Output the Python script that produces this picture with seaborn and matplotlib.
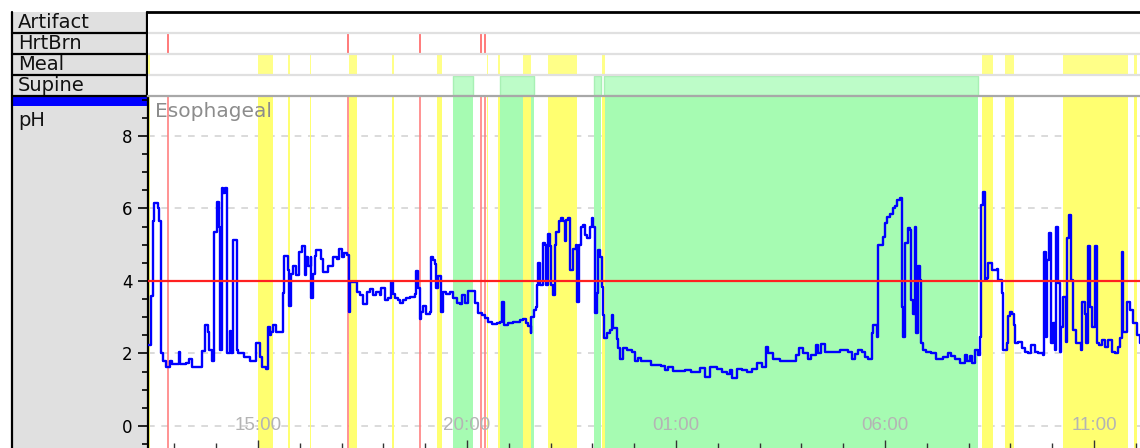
import numpy as np
import pandas as pd
import matplotlib.pyplot as plt
import matplotlib.ticker as mticker
from matplotlib.patches import Rectangle
import seaborn as sns

# registro de pH esofagico, hora del dia (>24 = dia siguiente)
hora = [12.37, 12.45, 12.49, 12.52, 12.60, 12.64, 12.68, 12.72, 12.80, 12.89,
        12.94, 13.10, 13.13, 13.28, 13.35, 13.42, 13.67, 13.74, 13.80, 13.84,
        13.89, 13.96, 14.03, 14.08, 14.10, 14.13, 14.16, 14.22, 14.27, 14.32,
        14.35, 14.40, 14.49, 14.52, 14.67, 14.81, 14.96, 15.05, 15.10, 15.19,
        15.24, 15.29, 15.32, 15.37, 15.44, 15.59, 15.62, 15.72, 15.75, 15.79,
        15.85, 15.92, 15.98, 16.06, 16.12, 16.16, 16.20, 16.26, 16.28, 16.32,
        16.36, 16.40, 16.52, 16.56, 16.67, 16.79, 16.88, 16.94, 17.00, 17.05,
        17.12, 17.18, 17.21, 17.36, 17.44, 17.51, 17.60, 17.68, 17.75, 17.83,
        17.92, 17.95, 18.04, 18.11, 18.19, 18.23, 18.28, 18.35, 18.40, 18.47,
        18.55, 18.64, 18.76, 18.79, 18.83, 18.88, 18.91, 18.95, 19.03, 19.11,
        19.15, 19.19, 19.23, 19.27, 19.31, 19.39, 19.43, 19.51, 19.59, 19.67,
        19.75, 19.83, 19.87, 19.95, 20.02, 20.13, 20.19, 20.26, 20.35, 20.43,
        20.50, 20.59, 20.71, 20.79, 20.85, 20.89, 20.98, 21.10, 21.18, 21.27,
        21.34, 21.42, 21.46, 21.52, 21.54, 21.60, 21.65, 21.67, 21.70, 21.75,
        21.81, 21.87, 21.90, 21.94, 21.99, 22.02, 22.06, 22.11, 22.14, 22.20,
        22.24, 22.30, 22.34, 22.38, 22.42, 22.46, 22.54, 22.61, 22.63, 22.68,
        22.73, 22.78, 22.82, 22.87, 22.94, 22.98, 23.01, 23.06, 23.10, 23.13,
        23.18, 23.22, 23.25, 23.28, 23.34, 23.42, 23.46, 23.50, 23.58, 23.62,
        23.67, 23.73, 23.82, 23.94, 24.02, 24.09, 24.17, 24.29, 24.41, 24.53,
        24.65, 24.74, 24.82, 24.93, 25.22, 25.37, 25.57, 25.69, 25.81, 25.97,
        26.09, 26.21, 26.29, 26.35, 26.45, 26.57, 26.69, 26.81, 26.93, 27.05,
        27.15, 27.20, 27.32, 27.49, 27.64, 27.88, 27.94, 28.04, 28.16, 28.24,
        28.35, 28.40, 28.48, 28.56, 28.72, 28.92, 29.11, 29.20, 29.28, 29.35,
        29.44, 29.52, 29.59, 29.69, 29.72, 29.80, 29.84, 29.95, 30.00, 30.04,
        30.12, 30.18, 30.24, 30.29, 30.35, 30.41, 30.44, 30.49, 30.55, 30.61,
        30.63, 30.67, 30.71, 30.75, 30.79, 30.84, 30.86, 30.91, 30.99, 31.11,
        31.23, 31.39, 31.51, 31.59, 31.67, 31.79, 31.91, 31.95, 32.03, 32.07,
        32.15, 32.22, 32.27, 32.30, 32.34, 32.39, 32.43, 32.46, 32.55, 32.67,
        32.70, 32.79, 32.82, 32.91, 32.94, 32.99, 33.05, 33.09, 33.11, 33.18,
        33.27, 33.35, 33.42, 33.50, 33.59, 33.66, 33.77, 33.80, 33.85, 33.88,
        33.92, 33.96, 34.01, 34.07, 34.09, 34.14, 34.19, 34.22, 34.27, 34.33,
        34.35, 34.41, 34.46, 34.50, 34.58, 34.68, 34.72, 34.78, 34.82, 34.86,
        34.90, 34.96, 35.02, 35.06, 35.12, 35.18, 35.26, 35.33, 35.42, 35.50,
        35.57, 35.62, 35.66, 35.69, 35.78, 35.86, 35.93, 36.02, 36.10]
ph = [2.23, 3.59, 5.64, 6.15, 6.00, 5.64, 2.00, 1.78, 1.64, 1.80,
      1.72, 2.05, 1.72, 1.75, 1.85, 1.64, 2.08, 2.79, 2.60, 2.10,
      1.78, 5.36, 6.19, 5.50, 2.10, 6.56, 6.43, 6.56, 2.00, 2.62,
      2.00, 5.13, 2.10, 2.00, 1.90, 1.80, 2.28, 1.90, 1.64, 1.58,
      2.74, 2.50, 2.60, 2.79, 2.60, 3.66, 4.69, 4.30, 3.32, 4.20,
      4.41, 4.15, 4.81, 4.97, 4.15, 4.67, 4.41, 4.67, 3.52, 4.20,
      4.70, 4.86, 4.60, 4.26, 4.40, 4.66, 4.60, 4.87, 4.66, 4.76,
      4.72, 3.15, 3.98, 3.70, 3.61, 3.36, 3.70, 3.77, 3.61, 3.70,
      3.61, 3.80, 3.47, 3.52, 3.98, 3.65, 3.52, 3.47, 3.40, 3.47,
      3.52, 3.56, 3.65, 4.27, 3.80, 2.94, 3.15, 3.32, 3.08, 3.15,
      4.67, 4.57, 4.47, 3.80, 4.13, 3.15, 3.70, 3.65, 3.70, 3.52,
      3.40, 3.36, 3.61, 3.40, 3.73, 3.73, 3.40, 3.11, 3.06, 2.97,
      2.88, 2.82, 2.85, 2.88, 3.43, 2.79, 2.85, 2.86, 2.88, 2.91,
      2.94, 2.84, 2.76, 2.57, 3.00, 3.20, 3.29, 3.89, 4.49, 3.89,
      5.04, 5.00, 3.89, 5.30, 4.96, 3.89, 3.61, 5.00, 5.36, 5.64,
      5.73, 5.64, 5.09, 5.68, 5.73, 4.30, 4.89, 4.99, 3.43, 4.99,
      5.50, 5.55, 5.27, 5.18, 5.50, 5.73, 5.50, 3.11, 3.66, 4.86,
      4.67, 3.84, 3.06, 2.42, 2.56, 2.65, 3.06, 2.70, 2.40, 2.14,
      1.85, 2.16, 2.10, 2.05, 1.80, 1.88, 1.80, 1.78, 1.68, 1.68,
      1.65, 1.54, 1.62, 1.53, 1.55, 1.50, 1.60, 1.36, 1.62, 1.58,
      1.50, 1.42, 1.55, 1.32, 1.58, 1.55, 1.50, 1.56, 1.73, 1.62,
      2.19, 2.00, 1.85, 1.80, 1.78, 1.95, 2.14, 2.00, 1.85, 1.95,
      2.23, 2.00, 2.25, 2.03, 2.05, 2.10, 2.05, 1.85, 1.98, 2.10,
      2.05, 1.90, 1.85, 2.56, 2.79, 2.46, 4.99, 5.22, 5.59, 5.77,
      5.85, 6.00, 6.08, 6.23, 6.28, 3.29, 2.46, 5.04, 5.45, 5.40,
      3.48, 3.10, 5.50, 2.56, 4.40, 4.03, 2.28, 2.10, 2.05, 2.00,
      1.85, 1.90, 2.00, 1.92, 1.85, 1.73, 1.96, 1.78, 1.92, 1.73,
      2.10, 1.96, 2.46, 6.10, 6.46, 4.03, 4.08, 4.49, 4.30, 4.33,
      4.03, 3.66, 2.10, 2.28, 3.02, 3.15, 3.10, 2.78, 2.28, 2.32,
      2.14, 2.05, 2.00, 2.23, 2.05, 2.00, 1.96, 4.81, 2.46, 4.58,
      5.31, 2.28, 2.83, 2.10, 5.50, 3.93, 2.05, 2.74, 3.56, 2.32,
      5.18, 5.82, 4.03, 2.65, 2.28, 2.10, 3.43, 3.10, 2.28, 4.95,
      3.29, 2.74, 4.95, 2.28, 2.23, 2.37, 2.19, 2.37, 2.05, 2.00,
      2.19, 2.42, 4.81, 2.60, 3.43, 3.20, 2.83, 2.51, 2.28]

umbral_ph = 4.0
pirosis = [12.85, 17.15, 18.88, 20.33, 20.43]
comidas = [(12.36, 12.42), (15.00, 15.36), (15.72, 15.77), (16.24, 16.28),
           (17.17, 17.38), (18.21, 18.25), (19.28, 19.40), (20.48, 20.51),
           (20.74, 20.79), (21.34, 21.53), (21.94, 22.63), (23.24, 23.31),
           (32.32, 32.58), (32.88, 33.09), (34.25, 35.81), (35.96, 36.03)]
supino = [(19.67, 20.14), (20.79, 21.60), (23.04, 23.21), (23.28, 32.22)]
filas = ['Artifact', 'HrtBrn', 'Meal', 'Supine']
ticks_ph = [0, 2, 4, 6, 8]
ticks_hora = [15, 20, 25, 30, 35]
etiquetas_hora = ['15:00', '20:00', '01:00', '06:00', '11:00']

W, H = 1140, 448
AMARILLO = '#ffff70'
VERDE = '#a6fbb2'

sns.set_style('white')
plt.rcParams['font.family'] = ['DejaVu Sans']

fig = plt.figure(figsize=(W / 100, H / 100), dpi=100)

# panel izquierdo en coordenadas de pixel
pan = fig.add_axes([0, 0, 1, 1], zorder=0)
pan.set_xlim(0, W)
pan.set_ylim(H, 0)
pan.axis('off')
pan.add_patch(Rectangle((12, 12), 136, 436, facecolor='#e0e0e0', edgecolor='none'))
pan.add_patch(Rectangle((12, 96), 136, 10, facecolor='#0000ff', edgecolor='none'))
pan.plot([12, 12], [12, 448], color='black', lw=1.6)
pan.plot([147, 147], [12, 96], color='black', lw=1.6)
for yy in [33, 54, 75, 96]:
    pan.plot([12, 148], [yy, yy], color='black', lw=1.6)
for i, nombre in enumerate(filas):
    pan.text(18, 22.5 + 21 * i, nombre, fontsize=14, va='center', ha='left', color='#111111')
pan.text(18, 121, 'pH', fontsize=14, va='center', ha='left', color='#111111')

# grafico principal de pH
ax = fig.add_axes([148 / W, 0, 992 / W, 352 / H], zorder=2)
ev = fig.add_axes([148 / W, 1 - 96 / H, 992 / W, 84 / H], zorder=2, sharex=ax)

ax.set_xlim(12.37, 36.10)
ax.set_ylim(-0.607, 9.10)
# rejilla discontinua bajo las bandas
for yv in ticks_ph:
    ax.axhline(yv, color='#d4d4d4', ls=(0, (4, 4)), lw=1.2, zorder=0.5)
for s, e in supino:
    ax.axvspan(s, e, color=VERDE, lw=0, zorder=1)
for s, e in comidas:
    ax.axvspan(s, e, color=AMARILLO, lw=0, zorder=1.1)
ax.vlines(pirosis, -1, 10, color='#ff8080', lw=1.2, zorder=2)

df = pd.DataFrame({'hora': hora, 'ph': ph})
sns.lineplot(data=df, x='hora', y='ph', drawstyle='steps-post', color='#0000ff',
             lw=1.7, estimator=None, sort=False, legend=False, ax=ax, zorder=3)
ax.axhline(umbral_ph, color='#ff2020', lw=1.6, zorder=4)

ax.grid(False)
ax.set_axisbelow(False)
ax.set_yticks(ticks_ph)
ax.yaxis.set_minor_locator(mticker.MultipleLocator(0.5))
ax.set_xticks(ticks_hora)
ax.set_xticklabels([])
ax.xaxis.set_minor_locator(mticker.MultipleLocator(1))
ax.tick_params(axis='x', which='both', direction='in', bottom=True, colors='#333333')
ax.tick_params(axis='x', which='major', length=6, width=1)
ax.tick_params(axis='x', which='minor', length=3.5, width=1)
ax.tick_params(axis='y', which='both', direction='out', left=True, colors='black',
               labelsize=12, pad=4)
ax.tick_params(axis='y', which='major', length=7, width=1.2)
ax.tick_params(axis='y', which='minor', length=4.5, width=1.2)
ax.set_xlabel('')
ax.set_ylabel('')
for lado in ['top', 'right', 'bottom']:
    ax.spines[lado].set_visible(False)
ax.spines['left'].set_color('black')
ax.spines['left'].set_linewidth(1.6)

for t, lab in zip(ticks_hora, etiquetas_hora):
    ax.text(t, 0, lab, ha='center', va='center', fontsize=13.5, color='#b4b4b4',
            family=['Liberation Sans', 'DejaVu Sans'], zorder=5)
ax.text(0.007, 0.982, 'Esophageal', transform=ax.transAxes, ha='left', va='top',
        fontsize=14.5, color='#8c8c8c', zorder=5)

# filas de eventos
ev.set_ylim(4, 0)
ev.set_facecolor('white')
ev.broken_barh([(s, e - s) for s, e in comidas], (2.05, 0.9), facecolors='#ffff88', lw=0)
ev.broken_barh([(s, e - s) for s, e in supino], (3.05, 0.9), facecolors='#bdfcc8',
               edgecolors='#a8f0b4', lw=1)
ev.vlines(pirosis, 1.05, 1.95, color='#ff7070', lw=1.3)
for yy in [1, 2, 3]:
    ev.axhline(yy, color='#e0e0e0', lw=1.6)
ev.tick_params(axis='both', which='both', bottom=False, left=False,
               labelbottom=False, labelleft=False)
ev.grid(False)
for lado in ['left', 'right']:
    ev.spines[lado].set_visible(False)
ev.spines['top'].set_color('black')
ev.spines['top'].set_linewidth(2)
ev.spines['bottom'].set_color('#a8a8a8')
ev.spines['bottom'].set_linewidth(1.6)

fig.savefig('out.png', dpi=100)
